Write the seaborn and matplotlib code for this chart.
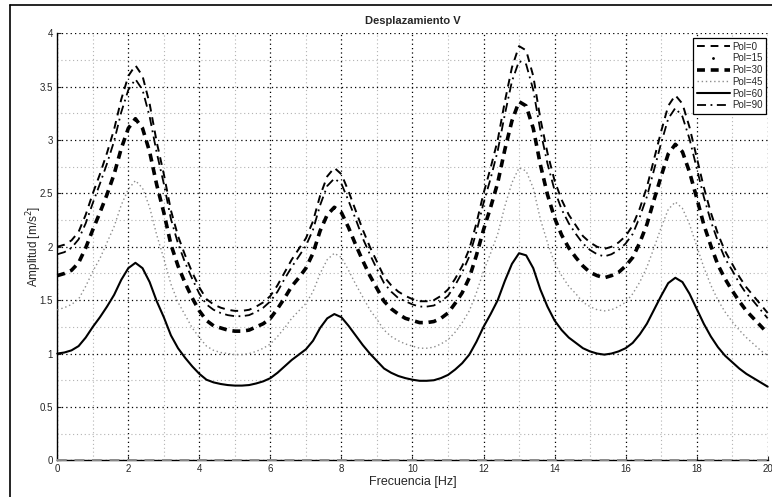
import pandas as pd
import matplotlib
matplotlib.use("Agg")
import matplotlib.pyplot as plt
from matplotlib.lines import Line2D
from matplotlib.ticker import MultipleLocator, FormatStrFormatter
import seaborn as sns

# Frecuencia [Hz], paso 0.2
frecuencia = [round(i * 0.2, 1) for i in range(101)]

pol_0 = [2.00, 2.02, 2.06, 2.14, 2.30, 2.50, 2.68, 2.88, 3.10, 3.38,
         3.60, 3.70, 3.60, 3.34, 2.98, 2.68, 2.34, 2.10, 1.92, 1.76,
         1.62, 1.51, 1.46, 1.43, 1.41, 1.40, 1.40, 1.41, 1.44, 1.48,
         1.54, 1.64, 1.76, 1.88, 1.98, 2.08, 2.24, 2.48, 2.66, 2.74,
         2.68, 2.52, 2.34, 2.16, 2.00, 1.86, 1.72, 1.64, 1.58, 1.54,
         1.51, 1.49, 1.49, 1.50, 1.54, 1.60, 1.70, 1.82, 1.98, 2.22,
         2.50, 2.74, 3.00, 3.36, 3.68, 3.88, 3.84, 3.60, 3.20, 2.88,
         2.62, 2.44, 2.30, 2.20, 2.10, 2.04, 2.00, 1.98, 2.00, 2.04,
         2.10, 2.20, 2.36, 2.56, 2.82, 3.08, 3.32, 3.42, 3.34, 3.12,
         2.84, 2.56, 2.32, 2.12, 1.96, 1.84, 1.72, 1.62, 1.54, 1.46,
         1.38]
pol_15 = [0.0] * 101
pol_30 = [1.73, 1.75, 1.78, 1.85, 1.99, 2.16, 2.32, 2.49, 2.68, 2.92,
          3.11, 3.20, 3.11, 2.89, 2.58, 2.32, 2.02, 1.82, 1.66, 1.52,
          1.40, 1.31, 1.26, 1.24, 1.22, 1.21, 1.21, 1.22, 1.25, 1.28,
          1.33, 1.42, 1.52, 1.63, 1.71, 1.80, 1.94, 2.15, 2.30, 2.37,
          2.32, 2.18, 2.02, 1.87, 1.73, 1.61, 1.49, 1.42, 1.37, 1.33,
          1.31, 1.29, 1.29, 1.30, 1.33, 1.38, 1.47, 1.57, 1.71, 1.92,
          2.16, 2.37, 2.60, 2.91, 3.18, 3.36, 3.32, 3.11, 2.77, 2.49,
          2.27, 2.11, 1.99, 1.90, 1.82, 1.76, 1.73, 1.71, 1.73, 1.76,
          1.82, 1.90, 2.04, 2.21, 2.44, 2.66, 2.87, 2.96, 2.89, 2.70,
          2.46, 2.21, 2.01, 1.83, 1.70, 1.59, 1.49, 1.40, 1.33, 1.26,
          1.19]
pol_45 = [1.41, 1.43, 1.46, 1.51, 1.63, 1.77, 1.89, 2.04, 2.19, 2.39,
          2.54, 2.62, 2.55, 2.37, 2.11, 1.89, 1.65, 1.48, 1.36, 1.24,
          1.15, 1.07, 1.03, 1.01, 1.00, 0.99, 0.99, 1.00, 1.02, 1.05,
          1.09, 1.16, 1.24, 1.33, 1.40, 1.47, 1.58, 1.75, 1.88, 1.94,
          1.90, 1.78, 1.65, 1.53, 1.41, 1.32, 1.22, 1.16, 1.12, 1.09,
          1.07, 1.05, 1.05, 1.06, 1.09, 1.13, 1.20, 1.29, 1.40, 1.57,
          1.77, 1.94, 2.12, 2.38, 2.60, 2.74, 2.71, 2.55, 2.26, 2.04,
          1.85, 1.73, 1.63, 1.56, 1.48, 1.44, 1.41, 1.40, 1.41, 1.44,
          1.48, 1.56, 1.67, 1.81, 1.99, 2.18, 2.35, 2.42, 2.36, 2.21,
          2.01, 1.81, 1.64, 1.50, 1.39, 1.30, 1.22, 1.15, 1.09, 1.03,
          0.98]
pol_60 = [1.00, 1.01, 1.03, 1.07, 1.15, 1.25, 1.34, 1.44, 1.55, 1.69,
          1.80, 1.85, 1.80, 1.67, 1.49, 1.34, 1.17, 1.05, 0.96, 0.88,
          0.81, 0.755, 0.73, 0.715, 0.705, 0.70, 0.70, 0.705, 0.72, 0.74,
          0.77, 0.82, 0.88, 0.94, 0.99, 1.04, 1.12, 1.24, 1.33, 1.37,
          1.34, 1.26, 1.17, 1.08, 1.00, 0.93, 0.86, 0.82, 0.79, 0.77,
          0.755, 0.745, 0.745, 0.75, 0.77, 0.80, 0.85, 0.91, 0.99, 1.11,
          1.25, 1.37, 1.50, 1.68, 1.84, 1.94, 1.92, 1.80, 1.60, 1.44,
          1.31, 1.22, 1.15, 1.10, 1.05, 1.02, 1.00, 0.99, 1.00, 1.02,
          1.05, 1.10, 1.18, 1.28, 1.41, 1.54, 1.66, 1.71, 1.67, 1.56,
          1.42, 1.28, 1.16, 1.06, 0.98, 0.92, 0.86, 0.81, 0.77, 0.73,
          0.69]
pol_90 = [1.93, 1.95, 1.99, 2.07, 2.22, 2.41, 2.59, 2.78, 2.99, 3.26,
          3.47, 3.57, 3.47, 3.22, 2.88, 2.59, 2.26, 2.03, 1.85, 1.70,
          1.56, 1.46, 1.41, 1.38, 1.36, 1.35, 1.35, 1.36, 1.39, 1.43,
          1.49, 1.58, 1.70, 1.81, 1.91, 2.01, 2.16, 2.39, 2.57, 2.64,
          2.59, 2.43, 2.26, 2.08, 1.93, 1.79, 1.66, 1.58, 1.52, 1.49,
          1.46, 1.44, 1.44, 1.45, 1.49, 1.54, 1.64, 1.76, 1.91, 2.14,
          2.41, 2.64, 2.90, 3.24, 3.55, 3.74, 3.71, 3.47, 3.09, 2.78,
          2.53, 2.35, 2.22, 2.12, 2.03, 1.97, 1.93, 1.91, 1.93, 1.97,
          2.03, 2.12, 2.28, 2.47, 2.72, 2.97, 3.20, 3.30, 3.22, 3.01,
          2.74, 2.47, 2.24, 2.05, 1.89, 1.78, 1.66, 1.56, 1.49, 1.41,
          1.33]

etiquetas = ['Pol=0', 'Pol=15', 'Pol=30', 'Pol=45', 'Pol=60', 'Pol=90']

sns.set_style('white')
plt.rcParams['font.family'] = ['Liberation Sans', 'DejaVu Sans']

fig = plt.figure(figsize=(7.72, 4.97), dpi=100)
ax = fig.add_axes([0.0742, 0.0738, 0.9202, 0.8592])

# marco de la figura
fig.add_artist(Line2D([10 / 772, 10 / 772], [0, 1 - 5 / 497], color='black', lw=1.2))
fig.add_artist(Line2D([10 / 772, 1], [1 - 5 / 497, 1 - 5 / 497], color='black', lw=1.2))

estilos = {
    'Pol=0': dict(color='black', lw=1.4, linestyle=(0, (4, 3))),
    'Pol=15': dict(color='0.55', lw=1.4, linestyle=(0, (5, 4))),
    'Pol=30': dict(color='black', lw=2.6, linestyle=(0, (2.2, 1.6))),
    'Pol=45': dict(color='0.55', lw=1.0, linestyle=(0, (1, 2))),
    'Pol=60': dict(color='black', lw=1.5, linestyle='-'),
    'Pol=90': dict(color='black', lw=1.3, linestyle=(0, (5, 2.5, 1, 2.5))),
}
series = {'Pol=0': pol_0, 'Pol=15': pol_15, 'Pol=30': pol_30,
          'Pol=45': pol_45, 'Pol=60': pol_60, 'Pol=90': pol_90}

for nombre in ['Pol=15', 'Pol=45', 'Pol=60', 'Pol=30', 'Pol=90', 'Pol=0']:
    df = pd.DataFrame({'f': frecuencia, 'a': series[nombre]})
    sns.lineplot(data=df, x='f', y='a', ax=ax, errorbar=None,
                 clip_on=False, zorder=3, **estilos[nombre])

ax.set_xlim(0, 20)
ax.set_ylim(0, 4)
ax.xaxis.set_major_locator(MultipleLocator(2))
ax.xaxis.set_minor_locator(MultipleLocator(1))
ax.yaxis.set_major_locator(MultipleLocator(0.5))
ax.yaxis.set_minor_locator(MultipleLocator(0.25))
ax.yaxis.set_major_formatter(FormatStrFormatter('%g'))
ax.grid(which='major', color='black', linestyle=(0, (1, 2.5)), lw=0.9)
ax.grid(which='minor', color='0.7', linestyle=(0, (1, 2.5)), lw=0.8)
ax.set_axisbelow(True)

for lado in ['top', 'right']:
    ax.spines[lado].set_visible(False)
for lado in ['left', 'bottom']:
    ax.spines[lado].set_color('black')
    ax.spines[lado].set_linewidth(1.0)

ax.tick_params(which='major', direction='in', length=3, width=0.8,
               labelsize=7, left=True, bottom=True, pad=3)
ax.tick_params(which='minor', length=0)

ax.set_title('Desplazamiento V', fontsize=8, fontweight='bold', pad=7)
ax.set_xlabel('Frecuencia [Hz]', fontsize=9, labelpad=1)
ax.set_ylabel('Amplitud [m/s$^2$]', fontsize=8.5, labelpad=-3)

handles = []
for nombre in etiquetas:
    if nombre == 'Pol=15':
        handles.append(Line2D([], [], color='black', linestyle='none',
                              marker='.', markersize=2))
    else:
        handles.append(Line2D([], [], **estilos[nombre]))
leg = ax.legend(handles, etiquetas, loc='upper right', bbox_to_anchor=(1.0, 0.993),
                fontsize=7, frameon=True, fancybox=False, framealpha=1,
                edgecolor='black', handlelength=3.4, handletextpad=0.2,
                labelspacing=0.18, borderpad=0.35, borderaxespad=0.2)
leg.get_frame().set_linewidth(0.9)

fig.savefig('out.png', dpi=100)
